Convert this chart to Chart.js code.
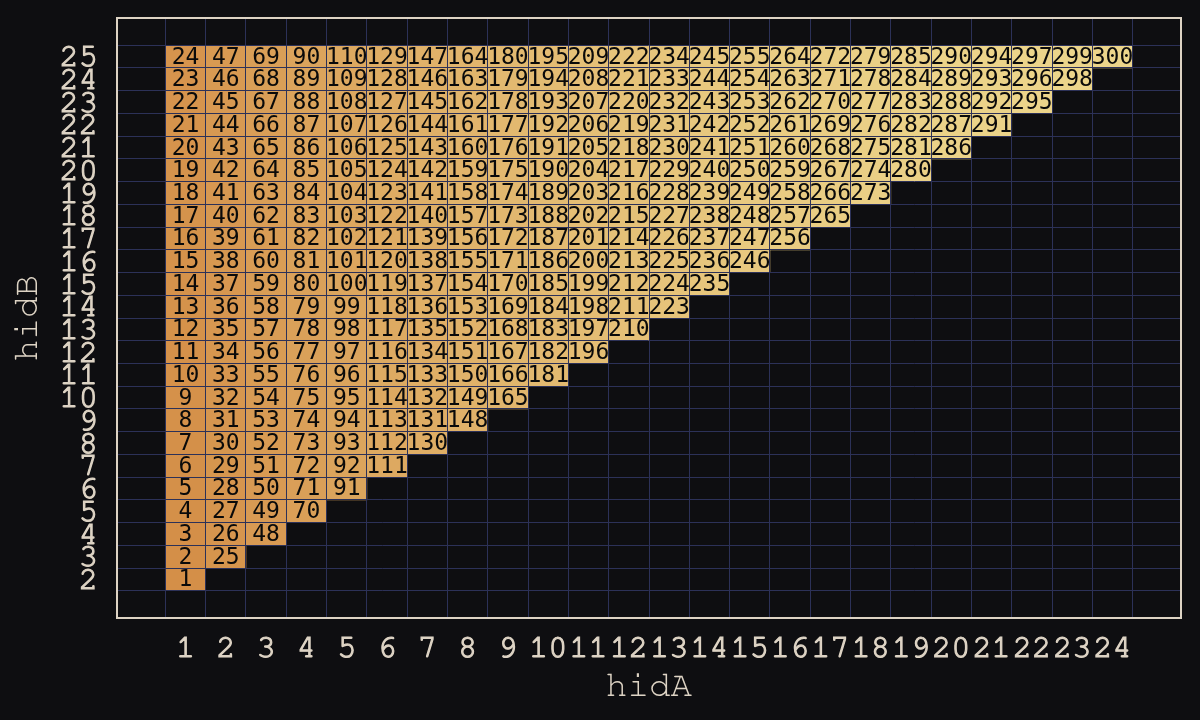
<!DOCTYPE html>
<html><head><meta charset="utf-8">
<script src="https://cdn.jsdelivr.net/npm/chart.js@4.4.1/dist/chart.umd.min.js"></script>
<style>html,body{margin:0;padding:0;background:#0e0e11;}canvas{display:block}</style>
</head><body><canvas id="c" width="1200" height="720"></canvas>
<script>
// ---- data ----
const hidA = [1,2,3,4,5,6,7,8,9,10,11,12,13,14,15,16,17,18,19,20,21,22,23,24];
const hidB = [2,3,4,5,6,7,8,9,10,11,12,13,14,15,16,17,18,19,20,21,22,23,24,25];
// counts[i] : values for hidA[i], for hidB = hidA[i]+1 ... 25 (bottom to top)
const counts = [
  [1,2,3,4,5,6,7,8,9,10,11,12,13,14,15,16,17,18,19,20,21,22,23,24],
  [25,26,27,28,29,30,31,32,33,34,35,36,37,38,39,40,41,42,43,44,45,46,47],
  [48,49,50,51,52,53,54,55,56,57,58,59,60,61,62,63,64,65,66,67,68,69],
  [70,71,72,73,74,75,76,77,78,79,80,81,82,83,84,85,86,87,88,89,90],
  [91,92,93,94,95,96,97,98,99,100,101,102,103,104,105,106,107,108,109,110],
  [111,112,113,114,115,116,117,118,119,120,121,122,123,124,125,126,127,128,129],
  [130,131,132,133,134,135,136,137,138,139,140,141,142,143,144,145,146,147],
  [148,149,150,151,152,153,154,155,156,157,158,159,160,161,162,163,164],
  [165,166,167,168,169,170,171,172,173,174,175,176,177,178,179,180],
  [181,182,183,184,185,186,187,188,189,190,191,192,193,194,195],
  [196,197,198,199,200,201,202,203,204,205,206,207,208,209],
  [210,211,212,213,214,215,216,217,218,219,220,221,222],
  [223,224,225,226,227,228,229,230,231,232,233,234],
  [235,236,237,238,239,240,241,242,243,244,245],
  [246,247,248,249,250,251,252,253,254,255],
  [256,257,258,259,260,261,262,263,264],
  [265,266,267,268,269,270,271,272],
  [273,274,275,276,277,278,279],
  [280,281,282,283,284,285],
  [286,287,288,289,290],
  [291,292,293,294],
  [295,296,297],
  [298,299],
  [300]
];
const xTickLabels = hidA;
const yTickLabels = hidB;

// ---- build cells ----
const cells = [];
hidA.forEach((a, i) => {
  counts[i].forEach((v, j) => {
    const b = hidB[i + j];
    cells.push({x: a, y: [b - 0.5, b + 0.5], v: v});
  });
});
const allV = cells.map(c => c.v);
const vMin = Math.min(...allV), vMax = Math.max(...allV);

const cLow = [212,143,72], cHigh = [236,213,139];
function cellColor(v) {
  const t = (v - vMin) / (vMax - vMin);
  const c = cLow.map((lo, k) => Math.round(lo + (cHigh[k] - lo) * t));
  return `rgb(${c[0]},${c[1]},${c[2]})`;
}

const beige = '#ddd3c4';
const gridC = '#2c3158';
const xMin = -0.7, xMax = 25.7, yMin = 0.3, yMax = 26.7;
const xGridVals = hidA.map(a => a - 0.5).concat([hidA[hidA.length-1] + 0.5]);
const yGridVals = hidB.map(b => b - 0.5).concat([hidB[hidB.length-1] + 0.5]);

const cellLabels = {
  id: 'cellLabels',
  afterDraw(chart) {
    const meta = chart.getDatasetMeta(0);
    const data = chart.data.datasets[0].data;
    const ctx = chart.ctx;
    ctx.save();
    ctx.font = '23px "DejaVu Sans Mono"';
    ctx.fillStyle = '#0a0a0a';
    ctx.textAlign = 'center';
    ctx.textBaseline = 'middle';
    meta.data.forEach((el, i) => {
      const p = el.getCenterPoint();
      ctx.fillText(String(data[i].v), p.x, p.y + 1);
    });
    ctx.restore();
  }
};

const monoFam = "'Nimbus Mono PS', 'Nimbus Mono L', FreeMono, 'Courier New', Courier, 'Liberation Mono', monospace";
const tickFont = {family: monoFam, size: 32};
const titleFont = {family: monoFam, size: 36};
const noPad = s => { s.paddingTop = 0; s.paddingBottom = 0; s.paddingLeft = 0; s.paddingRight = 0; };

new Chart(document.getElementById('c'), {
  type: 'bar',
  data: {
    datasets: [{
      data: cells,
      backgroundColor: ctx => ctx.raw ? cellColor(ctx.raw.v) : 'transparent',
      borderWidth: 0,
      barPercentage: 1,
      categoryPercentage: 1,
      xAxisID: 'x',
      yAxisID: 'y'
    }]
  },
  options: {
    responsive: false,
    animation: false,
    devicePixelRatio: 1,
    layout: {padding: 0},
    plugins: {legend: {display: false}, tooltip: {enabled: false}},
    scales: {
      x: {
        type: 'linear', position: 'bottom', min: xMin, max: xMax, offset: false,
        grid: {display: false, offset: false},
        border: {display: true, color: beige, width: 2, z: 2},
        afterBuildTicks: s => { s.ticks = xTickLabels.map(v => ({value: v})); },
        afterFit: s => { s.height = 102; noPad(s); },
        ticks: {autoSkip: false, maxRotation: 0, minRotation: 0, color: beige, font: tickFont, padding: 2,
                textStrokeColor: beige, textStrokeWidth: 1.2},
        title: {display: true, text: 'hidA', color: beige, font: titleFont, padding: {top: 0, bottom: 13}}
      },
      xg: {
        type: 'linear', position: 'top', min: xMin, max: xMax, offset: false,
        grid: {color: gridC, lineWidth: 1, drawTicks: false, offset: false, z: 1},
        border: {display: true, color: beige, width: 2, z: 2},
        afterBuildTicks: s => { s.ticks = xGridVals.map(v => ({value: v})); },
        afterFit: s => { s.height = 18; noPad(s); },
        ticks: {display: false}
      },
      y: {
        type: 'linear', position: 'left', min: yMin, max: yMax, beginAtZero: false, offset: false,
        grid: {display: false},
        border: {display: true, color: beige, width: 2, z: 2},
        afterBuildTicks: s => { s.ticks = yTickLabels.map(v => ({value: v})); },
        afterFit: s => { s.width = 117; noPad(s); },
        ticks: {autoSkip: false, color: beige, font: tickFont, padding: 11,
                textStrokeColor: beige, textStrokeWidth: 1.2},
        title: {display: true, text: 'hidB', color: beige, font: titleFont, padding: {top: 5, bottom: 0}}
      },
      yg: {
        type: 'linear', position: 'right', min: yMin, max: yMax, beginAtZero: false, offset: false,
        grid: {color: gridC, lineWidth: 1, drawTicks: false, z: 1},
        border: {display: true, color: beige, width: 2, z: 2},
        afterBuildTicks: s => { s.ticks = yGridVals.map(v => ({value: v})); },
        afterFit: s => { s.width = 19; noPad(s); },
        ticks: {display: false}
      }
    }
  },
  plugins: [cellLabels]
});
</script>
</body></html>
